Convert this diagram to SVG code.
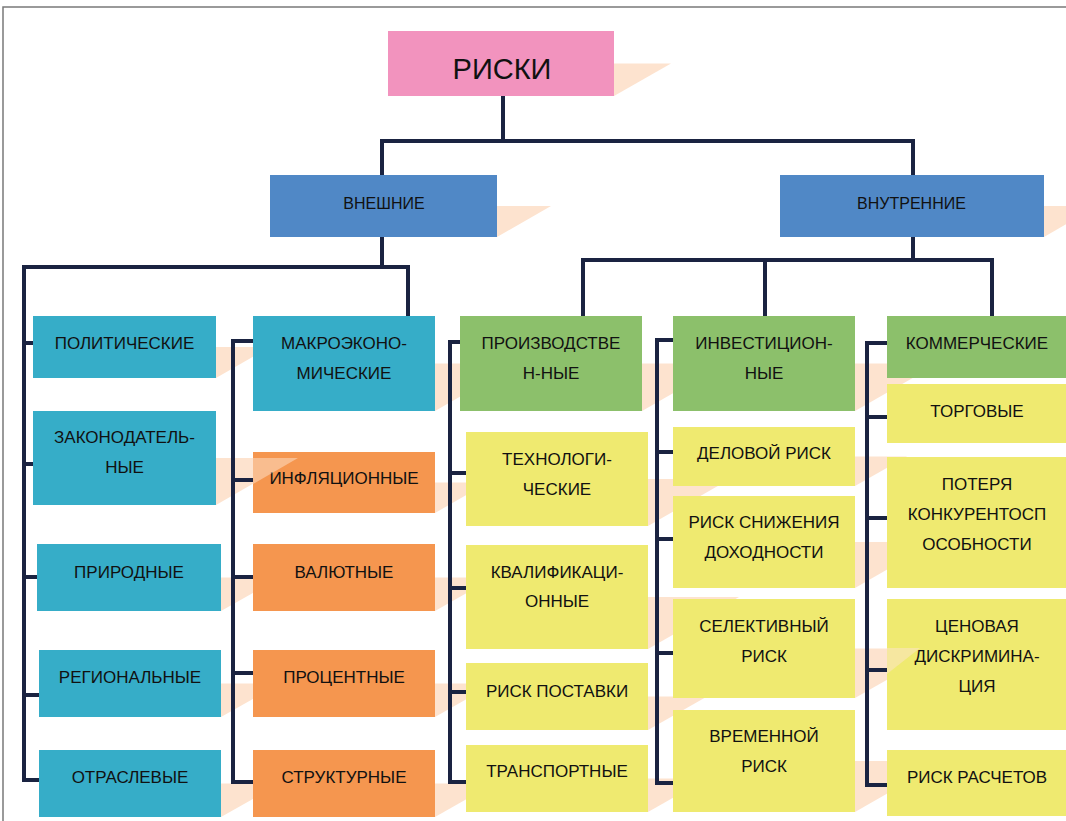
<svg xmlns="http://www.w3.org/2000/svg" width="1066" height="821" viewBox="0 0 1066 821">
<style>
.pink{fill:#F293BE}
.blue{fill:#5088C6}
.teal{fill:#36ADC8}
.orange{fill:#F5964F}
.green{fill:#8CC06B}
.yellow{fill:#EFEA70}
.sh{fill:#FDE3CF}
.ov{fill:#FDE3CF;opacity:0.5}
text{font-family:"Liberation Sans",Arial,sans-serif;font-size:17px;fill:#111;text-anchor:middle}
.big{font-size:29px}
.mid{font-size:16px}
.con{fill:none;stroke:#1A2341;stroke-width:4;stroke-linejoin:miter}
</style>
<rect x="0" y="0" width="1066" height="821" fill="#fff"/>
<path d="M3,821 V7 H1066" fill="none" stroke="#7a7a7a" stroke-width="1.5"/>
<g id="shadows">
<polygon class="sh" points="614,63.5 671,63.5 614,96"/>
<polygon class="sh" points="497,206 551,206 497,237"/>
<polygon class="sh" points="1044,206 1098,206 1044,237"/>
<polygon class="sh" points="216,347 270,347 216,378"/>
<polygon class="sh" points="216,458 298,458 216,505"/>
<polygon class="sh" points="221,577.5 280,577.5 221,611"/>
<polygon class="sh" points="221,683.5 280,683.5 221,717"/>
<polygon class="sh" points="221,783.5 280,783.5 221,817"/>
<polygon class="sh" points="435,363.5 518,363.5 435,411"/>
<polygon class="sh" points="435,482.5 488,482.5 435,513"/>
<polygon class="sh" points="435,577.5 494,577.5 435,611"/>
<polygon class="sh" points="435,683.5 494,683.5 435,717"/>
<polygon class="sh" points="435,783.5 494,783.5 435,817"/>
<polygon class="sh" points="642,363.5 725,363.5 642,411"/>
<polygon class="sh" points="648,479 730,479 648,526"/>
<polygon class="sh" points="648,597 739,597 648,649"/>
<polygon class="sh" points="648,696.5 707,696.5 648,730"/>
<polygon class="sh" points="648,778.5 707,778.5 648,812"/>
<polygon class="sh" points="855,363.5 938,363.5 855,411"/>
<polygon class="sh" points="855,456.5 907,456.5 855,486"/>
<polygon class="sh" points="855,542 935,542 855,588"/>
<polygon class="sh" points="855,648.5 942,648.5 855,698"/>
<polygon class="sh" points="855,761 944,761 855,812"/>
</g>
<g id="connectors">
<path class="con" d="M503,96 V141 M380,141 H915 M382,141 V175 M913,141 V175"/>
<path class="con" d="M382,237 V267 M22,267 H410 M408,267 V316 M24,267 V780 H39 M24,343 H33 M24,464 H33 M24,577 H37 M24,695 H39"/>
<path class="con" d="M253,341 H233 V782 H253 M233,480 H253 M233,577 H253 M233,673 H253"/>
<path class="con" d="M913,237 V260 M581,260 H994 M583,260 V316 M765,260 V316 M992,260 V316"/>
<path class="con" d="M460,342 H450 V782 H466 M450,473 H466 M450,588 H466 M450,692 H466"/>
<path class="con" d="M673,340 H657 V783 H673 M657,452 H673 M657,539 H673 M657,653 H673"/>
<path class="con" d="M887,343 H867 V785 H887 M867,417 H887 M867,518 H887 M867,670 H887"/>
</g>
<g id="n-riski"><rect class="pink" x="388" y="31" width="226" height="65"/><text class="big" x="502" y="79">РИСКИ</text></g>
<g id="n-vneshnie"><rect class="blue" x="270" y="175" width="227" height="62"/><text class="mid" x="384" y="208.5">ВНЕШНИЕ</text></g>
<g id="n-vnutrennie"><rect class="blue" x="780" y="175" width="264" height="62"/><text class="mid" x="911.5" y="208.5">ВНУТРЕННИЕ</text></g>

<g id="n-polit"><rect class="teal" x="33" y="316" width="183" height="62"/><text x="124.5" y="349">ПОЛИТИЧЕСКИЕ</text></g>
<g id="n-zakon"><rect class="teal" x="33" y="411" width="183" height="94"/><text x="124.5" y="443">ЗАКОНОДАТЕЛЬ-</text><text x="124.5" y="473">НЫЕ</text></g>
<g id="n-prirod"><rect class="teal" x="37" y="544" width="184" height="67"/><text x="129" y="578">ПРИРОДНЫЕ</text></g>
<g id="n-region"><rect class="teal" x="39" y="650" width="182" height="67"/><text x="130" y="683">РЕГИОНАЛЬНЫЕ</text></g>
<g id="n-otrasl"><rect class="teal" x="39" y="750" width="182" height="67"/><text x="130" y="783">ОТРАСЛЕВЫЕ</text></g>

<g id="n-makro"><rect class="teal" x="253" y="316" width="182" height="95"/><text x="344" y="349">МАКРОЭКОНО-</text><text x="344" y="379">МИЧЕСКИЕ</text></g>
<g id="n-infl"><rect class="orange" x="253" y="452" width="182" height="61"/><text x="344" y="484">ИНФЛЯЦИОННЫЕ</text></g>
<g id="n-valut"><rect class="orange" x="253" y="544" width="182" height="67"/><text x="344" y="578">ВАЛЮТНЫЕ</text></g>
<g id="n-proc"><rect class="orange" x="253" y="650" width="182" height="67"/><text x="344" y="683">ПРОЦЕНТНЫЕ</text></g>
<g id="n-strukt"><rect class="orange" x="253" y="750" width="182" height="67"/><text x="344" y="783">СТРУКТУРНЫЕ</text></g>

<g id="n-proizv"><rect class="green" x="460" y="316" width="182" height="95"/><text x="551" y="349">ПРОИЗВОДСТВЕ</text><text x="551" y="379">Н-НЫЕ</text></g>
<g id="n-tehn"><rect class="yellow" x="466" y="432" width="182" height="94"/><text x="557" y="465">ТЕХНОЛОГИ-</text><text x="557" y="495">ЧЕСКИЕ</text></g>
<g id="n-kval"><rect class="yellow" x="466" y="545" width="182" height="104"/><text x="557" y="578">КВАЛИФИКАЦИ-</text><text x="557" y="607">ОННЫЕ</text></g>
<g id="n-postav"><rect class="yellow" x="466" y="663" width="182" height="67"/><text x="557" y="697">РИСК ПОСТАВКИ</text></g>
<g id="n-transp"><rect class="yellow" x="466" y="745" width="182" height="67"/><text x="557" y="777">ТРАНСПОРТНЫЕ</text></g>

<g id="n-invest"><rect class="green" x="673" y="316" width="182" height="95"/><text x="764" y="349">ИНВЕСТИЦИОН-</text><text x="764" y="379">НЫЕ</text></g>
<g id="n-delov"><rect class="yellow" x="673" y="427" width="182" height="59"/><text x="764" y="459">ДЕЛОВОЙ РИСК</text></g>
<g id="n-snizh"><rect class="yellow" x="673" y="496" width="182" height="92"/><text x="764" y="528">РИСК СНИЖЕНИЯ</text><text x="764" y="558">ДОХОДНОСТИ</text></g>
<g id="n-selekt"><rect class="yellow" x="673" y="599" width="182" height="99"/><text x="764" y="632">СЕЛЕКТИВНЫЙ</text><text x="764" y="662">РИСК</text></g>
<g id="n-vrem"><rect class="yellow" x="673" y="710" width="182" height="102"/><text x="764" y="742">ВРЕМЕННОЙ</text><text x="764" y="772">РИСК</text></g>

<g id="n-kommerch"><rect class="green" x="887" y="316" width="181" height="62"/><text x="977" y="349">КОММЕРЧЕСКИЕ</text></g>
<g id="n-torg"><rect class="yellow" x="887" y="384" width="181" height="59"/><text x="977" y="417">ТОРГОВЫЕ</text></g>
<g id="n-poterya"><rect class="yellow" x="887" y="457" width="181" height="131"/><text x="977" y="490">ПОТЕРЯ</text><text x="977" y="520">КОНКУРЕНТОСП</text><text x="977" y="550">ОСОБНОСТИ</text></g>
<g id="n-cenov"><rect class="yellow" x="887" y="599" width="181" height="131"/><text x="977" y="632">ЦЕНОВАЯ</text><text x="977" y="662">ДИСКРИМИНА-</text><text x="977" y="692">ЦИЯ</text></g>
<g id="n-raschet"><rect class="yellow" x="887" y="750" width="181" height="66"/><text x="977" y="783">РИСК РАСЧЕТОВ</text></g>

<g id="overlays">
<polygon class="ov" points="253,458 298,458 253,484"/>
<polygon class="ov" points="887,648 920,648 887,674"/>
</g>
</svg>
